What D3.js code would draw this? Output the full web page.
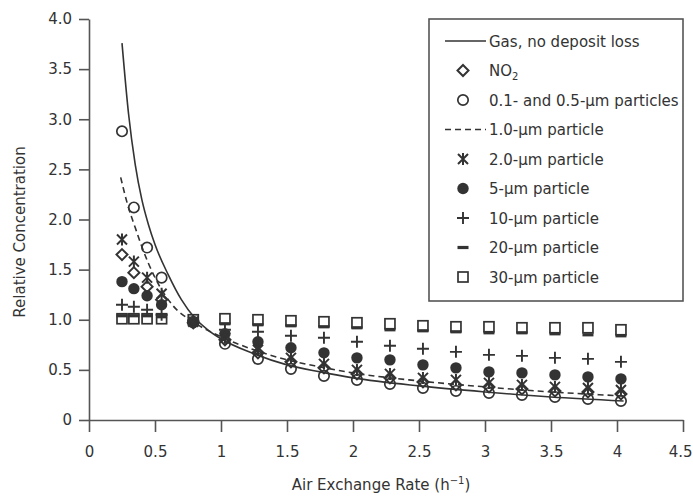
<!DOCTYPE html>
<html>
<head>
<meta charset="utf-8">
<script src="https://cdn.jsdelivr.net/npm/d3@7"></script>
<style>
  body { margin: 0; background: #fff; }
  svg text { font-family: "DejaVu Sans", sans-serif; fill: #333; }
</style>
</head>
<body>
<div id="chart"></div>
<script>
// ---- data ----
const rates = [0.25, 0.34, 0.44, 0.55, 0.79, 1.03, 1.28, 1.53, 1.78, 2.03, 2.28, 2.53, 2.78, 3.03, 3.28, 3.53, 3.78, 4.03];

const no2  = [1.65, 1.47, 1.33, 1.20, 0.97, 0.80, 0.67, 0.58, 0.52, 0.46, 0.42, 0.38, 0.35, 0.33, 0.31, 0.29, 0.28, 0.26];
const fine = [2.88, 2.12, 1.72, 1.42, 0.98, 0.76, 0.61, 0.51, 0.44, 0.40, 0.36, 0.32, 0.29, 0.27, 0.25, 0.23, 0.21, 0.19];
const p2   = [1.80, 1.58, 1.42, 1.26, 0.98, 0.82, 0.70, 0.62, 0.56, 0.50, 0.46, 0.42, 0.40, 0.37, 0.35, 0.33, 0.32, 0.30];
const p5   = [1.38, 1.31, 1.24, 1.15, 0.97, 0.86, 0.78, 0.72, 0.67, 0.62, 0.60, 0.55, 0.52, 0.48, 0.47, 0.45, 0.43, 0.41];
const p10  = [1.15, 1.13, 1.10, 1.05, 0.99, 0.90, 0.88, 0.84, 0.82, 0.78, 0.74, 0.71, 0.68, 0.65, 0.64, 0.62, 0.61, 0.58];
const p20  = [1.04, 1.04, 1.04, 1.03, 0.99, 0.96, 0.95, 0.94, 0.93, 0.92, 0.90, 0.89, 0.88, 0.87, 0.87, 0.86, 0.85, 0.84];
const p30  = [1.01, 1.01, 1.01, 1.01, 1.00, 1.01, 1.00, 0.99, 0.98, 0.97, 0.96, 0.94, 0.93, 0.93, 0.92, 0.92, 0.92, 0.90];

// model curves
const gasX  = [0.25, 0.30, 0.35, 0.40, 0.45, 0.50, 0.60, 0.70, 0.80, 0.90, 1.00, 1.25, 1.50, 1.75, 2.00, 2.50, 3.00, 3.50, 4.05];
const gasY  = [3.76, 3.05, 2.55, 2.20, 1.95, 1.75, 1.45, 1.20, 1.02, 0.90, 0.81, 0.66, 0.55, 0.48, 0.42, 0.34, 0.28, 0.23, 0.19];
const dashX = [0.24, 0.29, 0.35, 0.40, 0.50, 0.63, 0.80, 1.00, 1.25, 1.50, 1.75, 2.00, 2.50, 3.00, 3.50, 4.05];
const dashY = [2.42, 2.16, 1.92, 1.73, 1.42, 1.15, 0.97, 0.83, 0.70, 0.60, 0.53, 0.47, 0.39, 0.33, 0.28, 0.24];

const xTicks = [0, 0.5, 1, 1.5, 2, 2.5, 3, 3.5, 4, 4.5];
const yTicks = [0, 0.5, 1, 1.5, 2, 2.5, 3, 3.5, 4];

const legendLabels = [
  'Gas, no deposit loss', 'NO2', '0.1- and 0.5-\u00b5m particles', '1.0-\u00b5m particle',
  '2.0-\u00b5m particle', '5-\u00b5m particle', '10-\u00b5m particle', '20-\u00b5m particle', '30-\u00b5m particle'
];

// ---- layout ----
const width = 693, height = 496;
const ink = '#333';

const svg = d3.select('#chart').append('svg')
  .attr('width', width).attr('height', height);

const x = d3.scaleLinear().domain([0, 4.5]).range([89, 683]);
const y = d3.scaleLinear().domain([0, 4]).range([420, 19]);

// axes
const xAxis = svg.append('g')
  .attr('transform', `translate(0,${y(0)})`)
  .call(d3.axisBottom(x).tickValues(xTicks).tickSize(12).tickSizeOuter(0).tickPadding(14)
    .tickFormat(d => d3.format('')(d)));
const yAxis = svg.append('g')
  .attr('transform', `translate(${x(0)},0)`)
  .call(d3.axisLeft(y).tickValues(yTicks).tickSize(10).tickSizeOuter(0).tickPadding(7)
    .tickFormat(d => d === 0 ? '0' : d3.format('.1f')(d)));

[xAxis, yAxis].forEach(a => {
  a.select('.domain').attr('stroke', '#555').attr('stroke-width', 1.6);
  a.selectAll('.tick line').attr('stroke', '#555').attr('stroke-width', 1.6);
  a.selectAll('.tick text').attr('font-size', 15).attr('fill', ink)
    .style('font-family', '"DejaVu Sans", sans-serif');
});
// keep the last x label inside the frame
xAxis.selectAll('.tick text').filter(d => d === 4.5)
  .attr('text-anchor', 'end').attr('x', 9);

// axis titles
const xt = svg.append('text')
  .attr('x', 381).attr('y', 490)
  .attr('text-anchor', 'middle').attr('font-size', 15);
xt.append('tspan').text('Air Exchange Rate (h');
xt.append('tspan').attr('font-size', 10).attr('dy', -6).text('\u22121');
xt.append('tspan').attr('dy', 6).text(')');

svg.append('text')
  .attr('transform', 'translate(25,232) rotate(-90)')
  .attr('text-anchor', 'middle').attr('font-size', 15)
  .text('Relative Concentration');

// ---- markers ----
function marker(g, type, cx, cy) {
  const m = g.append('g').attr('transform', `translate(${cx},${cy})`);
  switch (type) {
    case 'diamond':
      m.append('path').attr('d', 'M0,-5.5L5.5,0L0,5.5L-5.5,0Z')
        .attr('fill', 'none').attr('stroke', ink).attr('stroke-width', 2);
      break;
    case 'circle':
      m.append('circle').attr('r', 5.2)
        .attr('fill', 'none').attr('stroke', ink).attr('stroke-width', 1.7);
      break;
    case 'star':
      m.append('path').attr('d', 'M-5,-5L5,5M-5,5L5,-5M0,-6L0,6')
        .attr('fill', 'none').attr('stroke', ink).attr('stroke-width', 2);
      break;
    case 'dot':
      m.append('circle').attr('r', 5.7).attr('fill', ink);
      break;
    case 'plus':
      m.append('path').attr('d', 'M-6,0L6,0M0,-6L0,6')
        .attr('fill', 'none').attr('stroke', ink).attr('stroke-width', 1.9);
      break;
    case 'dash':
      m.append('rect').attr('x', -5.5).attr('y', -1.6).attr('width', 11).attr('height', 3.2)
        .attr('fill', ink);
      break;
    case 'square':
      m.append('rect').attr('x', -5).attr('y', -5).attr('width', 10).attr('height', 10)
        .attr('fill', 'none').attr('stroke', ink).attr('stroke-width', 1.7);
      break;
  }
}

const series = [
  { type: 'square', values: p30 },
  { type: 'dash', values: p20 },
  { type: 'plus', values: p10 },
  { type: 'dot', values: p5 },
  { type: 'star', values: p2 },
  { type: 'diamond', values: no2 },
  { type: 'circle', values: fine }
];

const pts = svg.append('g');
series.forEach(s => {
  s.values.forEach((v, i) => marker(pts, s.type, x(rates[i]), y(v)));
});

// ---- curves ----
const line = d3.line().x(d => x(d[0])).y(d => y(d[1])).curve(d3.curveMonotoneX);

svg.append('path')
  .datum(gasX.map((v, i) => [v, gasY[i]]))
  .attr('d', line)
  .attr('fill', 'none').attr('stroke', ink).attr('stroke-width', 1.6);

svg.append('path')
  .datum(dashX.map((v, i) => [v, dashY[i]]))
  .attr('d', line)
  .attr('fill', 'none').attr('stroke', ink).attr('stroke-width', 1.6)
  .attr('stroke-dasharray', '6,4');

// ---- legend ----
const lg = svg.append('g');
lg.append('rect')
  .attr('x', 429).attr('y', 19).attr('width', 254).attr('height', 282)
  .attr('fill', '#fff').attr('stroke', '#555').attr('stroke-width', 1.6);

const legendTypes = ['line', 'diamond', 'circle', 'dashed', 'star', 'dot', 'plus', 'dash', 'square'];
legendLabels.forEach((label, i) => {
  const ly = 41 + i * 29.5;
  const t = legendTypes[i];
  if (t === 'line' || t === 'dashed') {
    lg.append('line')
      .attr('x1', 445).attr('x2', 486).attr('y1', ly).attr('y2', ly)
      .attr('stroke', ink).attr('stroke-width', 1.6)
      .attr('stroke-dasharray', t === 'dashed' ? '6,4' : null);
  } else {
    marker(lg, t, 463, ly);
  }
  const txt = lg.append('text')
    .attr('x', 489).attr('y', ly + 5.5).attr('font-size', 15);
  if (label === 'NO2') {
    txt.append('tspan').text('NO');
    txt.append('tspan').attr('font-size', 10).attr('dy', 4).text('2');
  } else {
    txt.text(label);
  }
});
</script>
</body>
</html>
